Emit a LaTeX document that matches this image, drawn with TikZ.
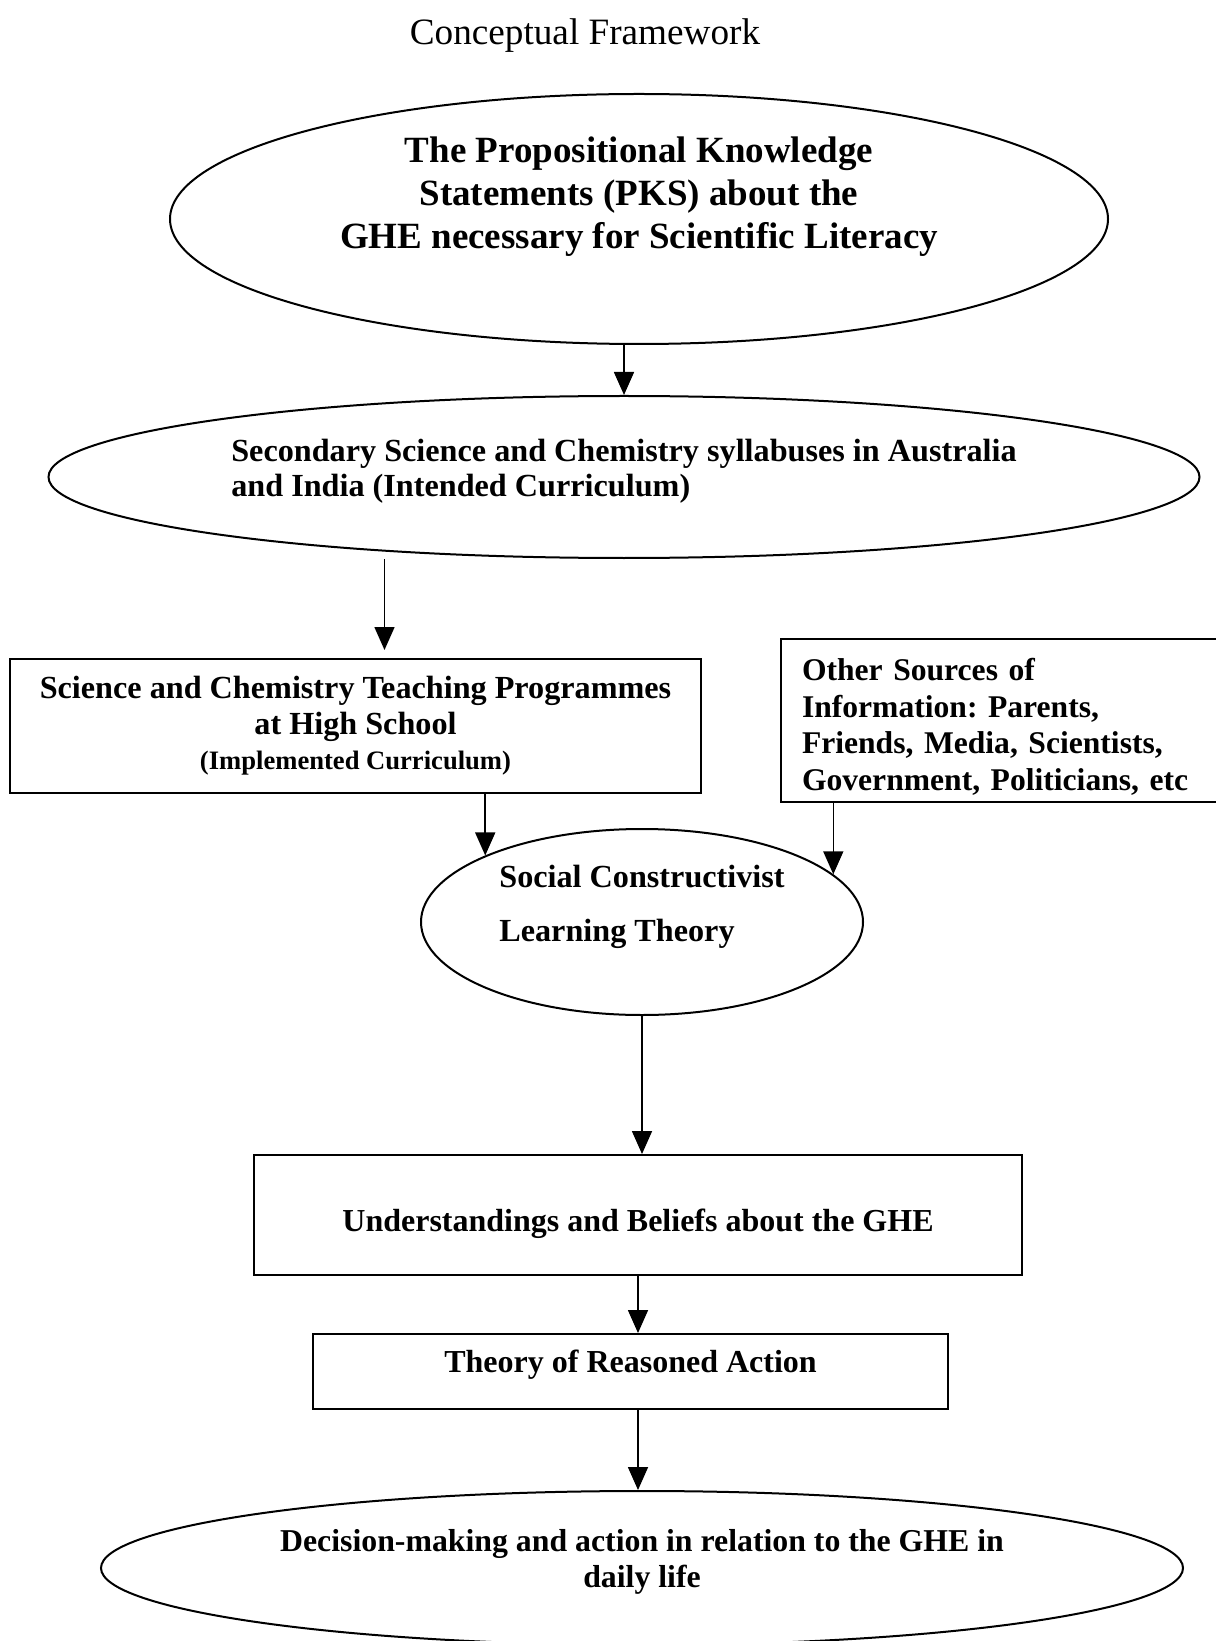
\documentclass[tikz,border=0pt]{standalone}
\usepackage{fontspec}
\setmainfont{Liberation Serif}
\usetikzlibrary{shapes.geometric}
\usetikzlibrary{arrows.meta}

\tikzset{
  oval/.style={draw, ellipse, line width=1pt, inner sep=0pt, font=\bfseries},
  box/.style={draw, rectangle, line width=1pt, inner sep=0pt, font=\bfseries},
  flow/.style={line width=0.8pt, -{Triangle[length=11.5pt, width=10pt]}}
}

\begin{document}
\frenchspacing
\begin{tikzpicture}[x=0.5pt, y=-0.5pt]
\useasboundingbox (0,0) rectangle (1215,1641);

\node (title) at (585,36) {\fontsize{18.6}{22}\selectfont Conceptual Framework};

\node[oval, minimum width=469pt, minimum height=125pt, align=center,
      font=\bfseries\fontsize{18.5}{21.5}\selectfont] (pks) at (639,219)
  {The Propositional Knowledge\\ Statements (PKS) about the\\
   GHE necessary for Scientific Literacy\\[4.5pt]};

\node[oval, minimum width=575.5pt, minimum height=81pt, align=left,
      font=\bfseries\fontsize{16.1}{17.8}\selectfont] (syl) at (624,477)
  {Secondary Science and Chemistry syllabuses in Australia\\
   and India (Intended Curriculum)\\[-8.5pt]};

\node[box, minimum width=345.5pt, minimum height=67pt, align=center,
      font=\bfseries\fontsize{16.1}{17.8}\selectfont] (teach) at (355.5,726)
  {Science and Chemistry Teaching Programmes\\ at High School\\
   {\fontsize{13.3}{15}\selectfont (Implemented Curriculum)}};

\node[box, minimum height=81.5pt, text width=203.5pt, inner xsep=10.5pt,
      align=left, font=\bfseries\fontsize{15.8}{18.3}\selectfont] (other) at (1005.5,720.5)
  {\rule{0pt}{17.3pt}Other Sources of\\ Information: Parents,\\ Friends, Media, Scientists,\\
   Government, Politicians, etc};

\node[oval, minimum width=221pt, minimum height=93pt, align=left,
      font=\bfseries\fontsize{16.1}{27.2}\selectfont] (scl) at (642,922)
  {Social Constructivist\\ Learning Theory\\[-8.5pt]};

\node[box, minimum width=384pt, minimum height=60pt, text height=20.3pt, text depth=3.5pt,
      font=\bfseries\fontsize{16}{18}\selectfont] (under) at (638,1215)
  {Understandings and Beliefs about the GHE};

\node[box, minimum width=317.5pt, minimum height=37.5pt, text height=11pt, text depth=9.7pt,
      font=\bfseries\fontsize{16}{18}\selectfont] (reason) at (630.5,1371.5)
  {Theory of Reasoned Action};

\node[oval, minimum width=541pt, minimum height=77pt, align=center,
      font=\bfseries\fontsize{15.9}{17.8}\selectfont] (dec) at (642,1568)
  {Decision-making and action in relation to the GHE in\\ daily life\\[-8.5pt]};

% arrows
\draw[flow] (pks.south -| syl.north) -- (syl.north);
\draw[flow] ([xshift=14.5pt]teach.north |- syl.south) -- ([xshift=14.5pt,yshift=4pt]teach.north);
\draw[flow] (teach.south -| scl.157.5) -- (scl.157.5);
\draw[flow] (other.south -| scl.14) -- (scl.14);
\draw[flow] (scl.south) -- (scl.south |- under.north);
\draw[flow] (under.south) -- (under.south |- reason.north);
\draw[flow] (reason.south -| under.south) -- (dec.north -| under.south);
\end{tikzpicture}
\end{document}
